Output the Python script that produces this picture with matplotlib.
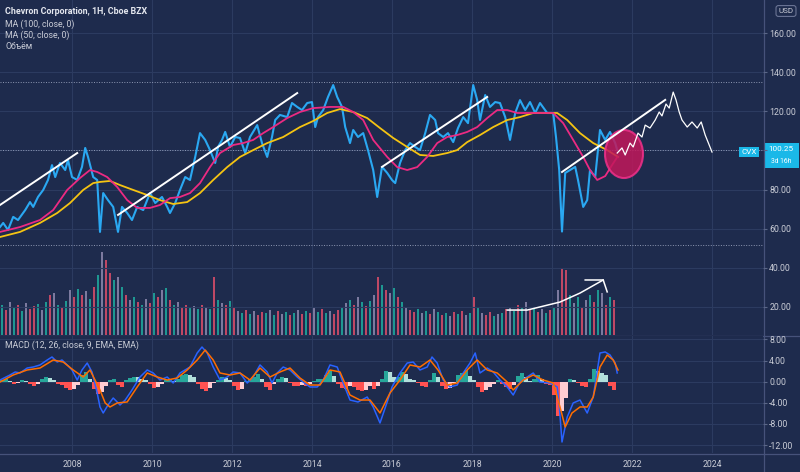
import numpy as np
import matplotlib

matplotlib.use("Agg")
import matplotlib.pyplot as plt
from matplotlib.patches import Ellipse, Rectangle
from matplotlib.lines import Line2D

plt.rcParams["font.family"] = ["Roboto", "DejaVu Sans"]

# --- CVX close (weekly-ish), decimal years ---
price_dates = [2006.20, 2006.28, 2006.40, 2006.53, 2006.65, 2006.83, 2006.95, 2007.03, 2007.15, 2007.28,
               2007.40, 2007.50, 2007.58, 2007.70, 2007.83, 2007.90, 2008.00, 2008.13, 2008.25, 2008.33,
               2008.40, 2008.53, 2008.63, 2008.70, 2008.78, 2008.90, 2009.03, 2009.15, 2009.25, 2009.38,
               2009.50, 2009.63, 2009.78, 2009.95, 2010.08, 2010.25, 2010.38, 2010.45, 2010.58, 2010.70,
               2010.83, 2010.95, 2011.08, 2011.20, 2011.33, 2011.45, 2011.58, 2011.65, 2011.75, 2011.83,
               2011.95, 2012.08, 2012.20, 2012.33, 2012.45, 2012.63, 2012.75, 2012.88, 2013.00, 2013.08,
               2013.20, 2013.38, 2013.50, 2013.63, 2013.75, 2013.88, 2014.00, 2014.08, 2014.15, 2014.28,
               2014.40, 2014.53, 2014.63, 2014.75, 2014.83, 2014.95, 2015.03, 2015.15, 2015.28, 2015.40,
               2015.53, 2015.63, 2015.75, 2015.88, 2016.00, 2016.08, 2016.20, 2016.33, 2016.45, 2016.58,
               2016.70, 2016.83, 2016.95, 2017.08, 2017.15, 2017.28, 2017.40, 2017.53, 2017.65, 2017.78,
               2017.90, 2018.03, 2018.13, 2018.20, 2018.33, 2018.45, 2018.58, 2018.70, 2018.83, 2018.95,
               2019.08, 2019.20, 2019.33, 2019.45, 2019.58, 2019.70, 2019.88, 2020.03, 2020.10, 2020.18,
               2020.25, 2020.33, 2020.45, 2020.58, 2020.65, 2020.78, 2020.88, 2020.95, 2021.08, 2021.20,
               2021.33, 2021.45, 2021.58, 2021.63]
price_close = [60.8, 62.9, 59.3, 66.0, 64.4, 69.5, 73.6, 71.1, 76.2, 79.8,
               84.9, 92.5, 86.4, 93.6, 90.0, 95.1, 86.4, 84.9, 91.6, 101.3,
               96.7, 86.4, 84.9, 58.3, 78.2, 74.6, 71.1, 58.3, 71.1, 68.0,
               64.4, 71.1, 69.5, 78.2, 73.1, 76.2, 71.1, 68.0, 73.1, 79.8,
               86.4, 84.9, 96.7, 108.9, 105.4, 100.2, 93.6, 101.8, 105.4, 109.5,
               101.8, 106.9, 106.4, 98.7, 106.9, 113.0, 103.8, 96.7, 106.9, 115.6,
               118.2, 117.1, 124.3, 122.3, 120.7, 124.3, 124.8, 112.0, 117.1, 120.7,
               127.4, 133.5, 127.4, 122.3, 112.0, 103.8, 110.5, 106.9, 108.9, 100.2,
               90.0, 76.2, 91.6, 88.5, 84.9, 83.3, 93.6, 100.2, 103.8, 101.8,
               100.2, 108.9, 118.2, 115.6, 108.9, 106.9, 108.9, 104.3, 111.5, 117.1,
               114.0, 133.5, 125.8, 115.6, 128.4, 122.3, 124.8, 124.3, 117.1, 105.4,
               119.2, 125.8, 120.7, 124.8, 119.2, 124.3, 119.2, 119.2, 106.9, 90.0,
               58.5, 88.5, 90.0, 91.6, 84.9, 71.1, 74.6, 90.0, 86.4, 110.5,
               105.4, 109.5, 103.8, 100.25]

ma100_dates = [2006.20, 2006.70, 2007.20, 2007.63, 2007.95, 2008.28, 2008.53, 2008.70, 2008.95, 2009.20,
               2009.53, 2009.88, 2010.20, 2010.53, 2010.88, 2011.20, 2011.53, 2011.88, 2012.20, 2012.53,
               2012.88, 2013.28, 2013.70, 2014.03, 2014.38, 2014.70, 2015.03, 2015.38, 2015.70, 2016.03,
               2016.38, 2016.70, 2017.03, 2017.38, 2017.63, 2017.88, 2018.20, 2018.53, 2018.88, 2019.20,
               2019.53, 2019.88, 2020.13, 2020.38, 2020.70, 2021.03, 2021.38, 2021.65]
ma100 = [55.7, 58.3, 62.9, 68.0, 73.1, 79.8, 83.3, 83.9, 84.4, 82.3,
         79.8, 77.2, 74.6, 72.6, 73.6, 78.2, 84.9, 91.5, 96.7, 100.2,
         103.8, 106.9, 112.0, 115.1, 119.2, 121.2, 119.7, 116.6, 111.5, 106.4,
         101.8, 97.7, 97.2, 98.7, 100.2, 104.3, 107.9, 112.0, 115.6, 117.1,
         119.2, 119.2, 119.2, 115.6, 108.9, 103.8, 100.2, 96.7]

ma50_dates = [2006.20, 2006.70, 2007.20, 2007.53, 2007.88, 2008.20, 2008.45, 2008.63, 2008.88, 2009.13,
              2009.38, 2009.63, 2009.95, 2010.20, 2010.45, 2010.70, 2010.95, 2011.20, 2011.45, 2011.70,
              2012.03, 2012.28, 2012.53, 2012.78, 2013.03, 2013.38, 2013.70, 2014.03, 2014.45, 2014.78,
              2015.03, 2015.28, 2015.53, 2015.88, 2016.13, 2016.38, 2016.63, 2016.88, 2017.13, 2017.38,
              2017.63, 2017.88, 2018.13, 2018.38, 2018.63, 2018.88, 2019.13, 2019.45, 2019.78, 2020.03,
              2020.28, 2020.53, 2020.78, 2020.95, 2021.13, 2021.33, 2021.50, 2021.63]
ma50 = [58.3, 60.8, 64.4, 69.5, 79.8, 85.9, 90.0, 89.0, 86.4, 81.3,
        74.6, 70.6, 70.6, 72.1, 75.6, 76.2, 78.2, 83.3, 91.5, 98.7,
        102.8, 103.8, 105.4, 108.9, 112.0, 116.6, 119.7, 121.7, 122.3, 122.3,
        119.7, 115.6, 105.4, 96.7, 91.5, 90.0, 91.5, 96.7, 103.8, 106.9,
        107.9, 109.5, 112.0, 116.6, 120.7, 120.7, 119.2, 119.2, 119.2, 119.2,
        114.0, 105.4, 96.7, 90.0, 84.9, 86.9, 92.5, 96.6]

# weekly bars (volume, MACD histogram)
bar_dates = 2006.25 + 0.1 * np.arange(154)
volume = [30, 25, 33, 27, 30, 24, 32, 26, 29, 31, 25, 33, 40, 42, 30, 28, 34, 45, 38, 46,
          40, 44, 36, 48, 60, 83, 75, 62, 55, 58, 48, 40, 35, 38, 33, 30, 36, 32, 42, 38,
          45, 47, 35, 30, 33, 28, 30, 27, 29, 26, 30, 28, 26, 58, 35, 32, 30, 34, 28, 24,
          22, 25, 21, 24, 20, 23, 22, 25, 20, 24, 21, 23, 20, 22, 25, 21, 24, 22, 27, 23,
          26, 22, 24, 21, 25, 28, 32, 35, 30, 38, 33, 29, 34, 40, 58, 50, 45, 42, 47, 38,
          33, 28, 25, 23, 26, 22, 24, 21, 26, 23, 20, 22, 19, 23, 21, 24, 20, 22, 38, 27,
          22, 20, 23, 19, 21, 22, 26, 28, 24, 30, 27, 33, 25, 28, 23, 26, 22, 25, 28, 45,
          67, 65, 40, 32, 38, 28, 35, 40, 33, 45, 42, 30, 38, 35]
macd_hist = [0.4, 0.5, 0.2, -0.5, -0.3, 0.3, 0.2, -0.4, -0.9, -0.5, 0.5, 0.9, 0.7, 0.3, -0.4, -0.6, -1.2, -1.6, -1.4, -0.6,
             1.2, 1.8, 0.6, -1.4, -2.4, -2.0, -0.8, 0.4, 0.6, -0.6, -1.0, 0.3, 0.7, 0.9, 0.8, 0.6, 0.4, -0.5, -1.2, -1.0,
             -0.4, 0.3, 0.5, 0.2, 0.6, 1.2, 1.5, 1.3, 0.8, -0.4, -1.4, -1.7, -1.2, -0.3, 0.3, 0.8, 0.7, 0.3, -0.8, -1.6,
             -1.3, 0.2, 0.5, 0.9, 1.4, 0.6, -1.0, -1.6, -0.5, 0.6, 0.9, 0.7, -0.3, -0.8, -0.9, -0.7, -0.8, -0.5, 0.2, 0.5,
             0.6, 1.2, 2.2, 1.0, -0.4, -1.2, -1.4, -0.9, -1.0, -1.6, -1.8, -1.5, -0.9, -1.3, -0.8, 0.5, 2.0, 1.8, 0.8, 0.9,
             1.8, 1.5, 0.6, 0.4, -0.3, -0.9, -1.0, 0.4, 1.6, 0.8, -0.8, -1.3, -1.1, -0.3, 1.2, 1.6, 2.2, 1.0, 0.4, -1.0,
             -1.9, -1.5, -1.0, -0.4, 0.3, -0.4, -1.0, -1.3, -0.6, 1.0, 1.6, 0.8, 0.2, 0.6, 1.2, 0.5, -0.4, -0.6, -2.5, -6.5,
             -5.5, -3.0, 0.6, 0.4, -0.3, -0.8, -1.0, 0.6, 2.5, 2.1, 1.6, 1.2, -0.8, -1.6]

macd_dates = [2006.20, 2006.45, 2006.58, 2006.70, 2006.88, 2007.03, 2007.20, 2007.38, 2007.50, 2007.63,
              2007.75, 2007.88, 2008.00, 2008.13, 2008.25, 2008.38, 2008.50, 2008.63, 2008.70, 2008.78,
              2008.90, 2009.03, 2009.13, 2009.20, 2009.33, 2009.50, 2009.70, 2009.88, 2010.03, 2010.20,
              2010.38, 2010.53, 2010.70, 2010.95, 2011.13, 2011.25, 2011.38, 2011.53, 2011.70, 2011.88,
              2012.03, 2012.20, 2012.38, 2012.53, 2012.70, 2012.88, 2013.00, 2013.13, 2013.28, 2013.45,
              2013.63, 2013.78, 2013.95, 2014.13, 2014.28, 2014.45, 2014.63, 2014.78, 2014.95, 2015.15,
              2015.38, 2015.53, 2015.70, 2015.88, 2016.00, 2016.20, 2016.38, 2016.53, 2016.70, 2016.88,
              2017.00, 2017.13, 2017.28, 2017.45, 2017.63, 2017.78, 2017.95, 2018.08, 2018.20, 2018.38,
              2018.53, 2018.70, 2018.88, 2019.03, 2019.20, 2019.38, 2019.53, 2019.70, 2019.95, 2020.13,
              2020.18, 2020.25, 2020.38, 2020.53, 2020.70, 2020.88, 2021.03, 2021.20, 2021.33, 2021.45,
              2021.58, 2021.63]
macd = [0.32, 1.27, 1.84, 1.65, 2.59, 2.78, 3.17, 4.11, 4.68, 3.73,
        4.11, 3.17, 2.22, 0.32, 2.22, 3.54, 1.84, -2.14, -4.79, -5.93,
        -4.41, -3.09, -3.84, -4.41, -3.47, -1.57, 0.89, 2.22, 1.65, 0.32,
        0.89, -0.25, 1.65, 2.78, 5.44, 6.57, 5.44, 2.78, 0.32, 0.89,
        1.84, 1.65, -0.25, 0.89, 3.17, 1.84, -0.25, 1.65, 2.78, 2.22,
        0.89, -0.06, -1.00, -1.00, 0.32, 3.17, 2.78, -0.25, -3.47, -3.84,
        -2.90, -4.79, -7.82, -3.84, -1.00, 1.65, 3.54, 3.73, 2.22, 2.78,
        4.68, 3.54, 0.32, -1.00, -0.63, 1.65, 3.54, 5.44, 1.65, 2.59,
        1.84, 0.32, -1.00, -2.52, -0.06, 0.89, 1.65, -0.06, -0.25, -1.00,
        -4.41, -11.42, -6.69, -4.03, -3.47, -5.93, -2.90, 5.44, 5.63, 5.06,
        3.54, 1.65]

signal_dates = [2006.20, 2006.53, 2006.88, 2007.20, 2007.53, 2007.78, 2008.03, 2008.28, 2008.45, 2008.70,
                2008.83, 2008.95, 2009.13, 2009.38, 2009.63, 2009.88, 2010.13, 2010.38, 2010.63, 2010.88,
                2011.13, 2011.33, 2011.53, 2011.70, 2011.95, 2012.20, 2012.45, 2012.70, 2012.95, 2013.20,
                2013.45, 2013.70, 2013.95, 2014.20, 2014.45, 2014.70, 2014.95, 2015.20, 2015.45, 2015.70,
                2015.95, 2016.20, 2016.45, 2016.70, 2016.95, 2017.15, 2017.38, 2017.63, 2017.88, 2018.13,
                2018.38, 2018.63, 2018.88, 2019.03, 2019.28, 2019.53, 2019.78, 2020.03, 2020.20, 2020.33,
                2020.50, 2020.70, 2020.88, 2021.03, 2021.20, 2021.38, 2021.53, 2021.65]
signal = [-0.06, 1.27, 2.22, 2.59, 4.11, 3.73, 2.22, 0.89, 2.22, -1.57,
          -4.03, -4.79, -4.03, -3.84, -1.00, 1.65, 0.89, 0.32, 0.70, 2.22,
          4.11, 6.00, 4.11, 1.65, 1.27, 1.65, 0.32, 2.59, 0.89, 1.84,
          2.59, 0.70, -0.63, -0.63, 2.22, 1.84, -2.52, -3.47, -3.47, -5.93,
          -2.14, 0.32, 3.17, 2.78, 4.11, 2.22, -0.63, -0.25, 2.22, 4.11,
          2.22, 1.65, -0.06, -1.57, 0.32, 1.27, 0.32, -0.25, -4.79, -8.58,
          -5.93, -4.79, -4.79, -2.90, 2.78, 5.06, 4.11, 2.22]

# hand-drawn annotations (date, price)
trend_lines = [((2006.20, 72.1), (2008.13, 98.7)),
               ((2009.15, 67.0), (2013.63, 129.4)),
               ((2015.75, 91.6), (2018.38, 127.4)),
               ((2020.25, 89.0), (2022.83, 125.9))]
forecast_dates = [2021.63, 2021.75, 2021.83, 2021.95, 2022.03, 2022.15, 2022.25, 2022.33, 2022.45, 2022.58,
                  2022.68, 2022.75, 2022.85, 2022.93, 2023.03, 2023.10, 2023.18, 2023.25, 2023.38, 2023.50,
                  2023.63, 2023.73, 2023.83, 2023.93, 2024.00]
forecast = [98.7, 101.3, 97.7, 103.8, 101.8, 108.9, 106.9, 113.0, 111.5, 115.6,
            119.7, 117.7, 123.8, 121.7, 129.9, 125.9, 119.7, 115.6, 112.0, 114.6,
            111.5, 114.6, 107.9, 102.8, 99.2]
arrow_dates = [2018.88, 2019.38, 2020.20, 2020.70, 2021.28]
arrow_vals = [18.3, 18.3, 22.4, 27.0, 33.7]
levels = [135.1, 100.25, 51.6]
last_price = 100.25

BG = "#1e2b4d"
GRID = "#2c3b60"
TXT = "#c9ccd6"
W, H = 800, 472
x_left, x_right = 2006.2, 2006.2 + 763 / 40

fig = plt.figure(figsize=(8, 4.72), dpi=100, facecolor=BG)
main_pos = [0, 1 - 335 / H, 763 / W, 335 / H]
axv = fig.add_axes(main_pos, zorder=1)
ax = fig.add_axes(main_pos, zorder=2)
axm = fig.add_axes([0, 1 - 453 / H, 763 / W, 117 / H], zorder=2)
axv.set_facecolor(BG)
ax.patch.set_visible(False)
axm.set_facecolor(BG)

years = list(range(2008, 2025, 2))
for a in (ax, axv, axm):
    a.set_xlim(x_left, x_right)
    for s in a.spines.values():
        s.set_visible(False)
    a.set_xticks(years)
    a.tick_params(axis="x", length=0, labelbottom=False)

# volume overlay
pattern = "trgtrtgrrtgtrgtrtgr"
cmap = {"t": "#1fb3a4", "r": "#e8506c", "g": "#958fb5"}
vcol = [cmap[pattern[i % len(pattern)]] for i in range(len(volume))]
axv.bar(bar_dates, volume, width=0.07, color=vcol, alpha=0.8, linewidth=0)
axv.set_ylim(0, 335)
axv.set_yticks([])
for yy in years:
    axv.axvline(yy, color=GRID, lw=0.8, zorder=0)

# price pane (the 100.00 label sits under the last-price tag)
ax.set_ylim(177.05 - 335 * 0.512, 177.05)
ax.set_yticks(range(20, 161, 20))
ax.yaxis.tick_right()
ax.yaxis.set_major_formatter(matplotlib.ticker.FuncFormatter(lambda v, p: "" if v == 100 else f"{v:.2f}"))
ax.tick_params(axis="y", length=3, width=0.8, color="#5a6687", pad=1.5, labelsize=6.3, labelcolor=TXT)
ax.grid(axis="y", color=GRID, lw=0.8)
for lv in levels:
    ax.axhline(lv, color="#aab3cc", lw=0.7, ls=(0, (1, 1.6)), alpha=0.8)

ax.plot(price_dates, price_close, color="#2aa8f2", lw=1.5, zorder=3)
ax.plot(ma100_dates, ma100, color="#f5c412", lw=1.3, zorder=4)
ax.plot(ma50_dates, ma50, color="#ec2a82", lw=1.3, zorder=4)
for (x0, y0), (x1, y1) in trend_lines:
    ax.plot([x0, x1], [y0, y1], color="white", lw=1.4, zorder=5)
ax.add_patch(Ellipse((2021.8, 98.2), 0.95, 24.6, facecolor="#c2185b", edgecolor="#f0308a",
                     lw=1.5, alpha=0.85, zorder=4))
ax.plot(forecast_dates, forecast, color="white", lw=0.9, zorder=5)
ax.plot(arrow_dates, arrow_vals, color="white", lw=1.1, zorder=5)
ax.plot([2020.83, arrow_dates[-1], 2021.38], [arrow_vals[-1], arrow_vals[-1], 27.6], color="white", lw=1.1, zorder=5)

# MACD pane
hcol = []
for i, v in enumerate(macd_hist):
    prev = macd_hist[i - 1] if i else 0
    if v >= 0:
        hcol.append("#26a69a" if v >= prev else "#b2dfdb")
    else:
        hcol.append("#ff5252" if v <= prev else "#ffcdd2")
axm.set_ylim((381.7 - 453) / 5.28, (381.7 - 336) / 5.28)
axm.set_yticks([8, 4, 0, -4, -8, -12])
axm.yaxis.tick_right()
axm.yaxis.set_major_formatter(matplotlib.ticker.FormatStrFormatter("%.2f"))
axm.tick_params(axis="y", length=3, width=0.8, color="#5a6687", pad=1.5, labelsize=6.3, labelcolor=TXT)
axm.grid(color=GRID, lw=0.8)
axm.bar(bar_dates, macd_hist, width=0.08, color=hcol, linewidth=0, zorder=2)
axm.plot(macd_dates, macd, color="#2962ff", lw=1.1, zorder=3)
axm.plot(signal_dates, signal, color="#ff6d00", lw=1.1, zorder=3)
axm.tick_params(axis="x", labelbottom=True, labelsize=6.3, labelcolor=TXT, pad=5)

# separators
for yy in (335.5, 453.5):
    fig.add_artist(Line2D([0, 1], [1 - yy / H] * 2, color="#46527a", lw=0.9))
fig.add_artist(Line2D([763.5 / W] * 2, [0, 1], color="#46527a", lw=0.9))

# legends
fig.text(5 / W, 1 - 12 / H, "Chevron Corporation, 1H, Cboe BZX", color="#e3e6ee", fontsize=6.4,
         fontweight="bold", va="center")
for k, s in enumerate(["MA (100, close, 0)", "MA (50, close, 0)", "Объём"]):
    fig.text(5 / W, 1 - (24 + 11.3 * k) / H, s, color=TXT, fontsize=6.3, va="center")
fig.text(5 / W, 1 - 345 / H, "MACD (12, 26, close, 9, EMA, EMA)", color=TXT, fontsize=6.3, va="center")

# price labels on the right
fig.text(749 / W, 1 - 152 / H, "CVX", color="white", fontsize=5.8, ha="center", va="center",
         bbox=dict(boxstyle="square,pad=0.25", fc="#1ab8e8", ec="none"))
fig.add_artist(Rectangle((764 / W, 1 - 168 / H), 35 / W, 25 / H, transform=fig.transFigure,
                         facecolor="#1ab8e8", edgecolor="none"))
fig.text(781 / W, 1 - 149 / H, f"{last_price:.2f}", color="white", fontsize=5.9, ha="center", va="center")
fig.text(781 / W, 1 - 161.5 / H, "3d 16h", color="white", fontsize=4.9, ha="center", va="center")
fig.text(786 / W, 1 - 11 / H, "USD", color=TXT, fontsize=5.8, ha="center", va="center",
         bbox=dict(boxstyle="round,pad=0.3", fc=BG, ec="#6b7595", lw=0.8))

fig.savefig("out.png", dpi=100, facecolor=BG)
